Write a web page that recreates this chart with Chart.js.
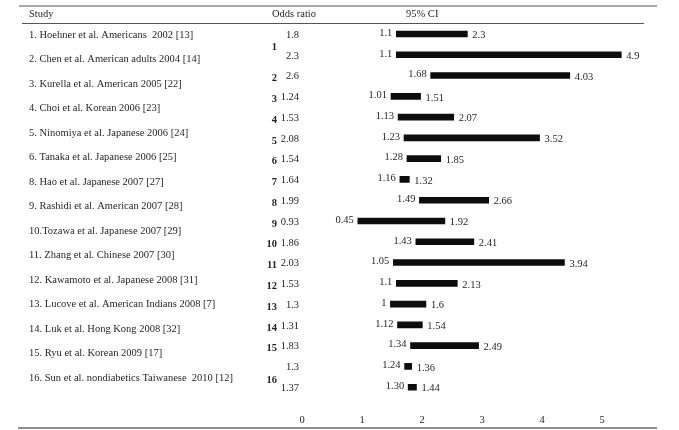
<!DOCTYPE html>
<html>
<head>
<meta charset="utf-8">
<title>Odds ratio and 95% CI by study</title>
<script src="https://cdn.jsdelivr.net/npm/chart.js@4"></script>
<style>
  html, body { margin: 0; padding: 0; background: #fff; }
  canvas { display: block; }
</style>
</head>
<body>
<canvas id="mycanvas" width="679" height="430"></canvas>
<script>
const dataChart = document.querySelector("#mycanvas").getContext("2d");

// Table data (one entry per study label)
const studies = [
  "1. Hoehner et al. Americans  2002 [13]",
  "2. Chen et al. American adults 2004 [14]",
  "3. Kurella et al. American 2005 [22]",
  "4. Choi et al. Korean 2006 [23]",
  "5. Ninomiya et al. Japanese 2006 [24]",
  "6. Tanaka et al. Japanese 2006 [25]",
  "8. Hao et al. Japanese 2007 [27]",
  "9. Rashidi et al. American 2007 [28]",
  "10.Tozawa et al. Japanese 2007 [29]",
  "11. Zhang et al. Chinese 2007 [30]",
  "12. Kawamoto et al. Japanese 2008 [31]",
  "13. Lucove et al. American Indians 2008 [7]",
  "14. Luk et al. Hong Kong 2008 [32]",
  "15. Ryu et al. Korean 2009 [17]",
  "16. Sun et al. nondiabetics Taiwanese  2010 [12]",
];

// One entry per bar row
const groups = [1, 1, 2, 3, 4, 5, 6, 7, 8, 9, 10, 11, 12, 13, 14, 15, 16, 16];
const oddsRatios = ["1.8", "2.3", "2.6", "1.24", "1.53", "2.08", "1.54", "1.64", "1.99",
  "0.93", "1.86", "2.03", "1.53", "1.3", "1.31", "1.83", "1.3", "1.37"];
const ciLow = ["1.1", "1.1", "1.68", "1.01", "1.13", "1.23", "1.28", "1.16", "1.49",
  "0.45", "1.43", "1.05", "1.1", "1", "1.12", "1.34", "1.24", "1.30"];
const ciHigh = ["2.3", "4.9", "4.03", "1.51", "2.07", "3.52", "1.85", "1.32", "2.66",
  "1.92", "2.41", "3.94", "2.13", "1.6", "1.54", "2.49", "1.36", "1.44"];

const tickValues = [0, 1, 2, 3, 4, 5];
const tickLabels = ["0", "1", "2", "3", "4", "5"];

const ink = "#231f20";
const font = "10.5px 'Liberation Serif'";
const boldFont = "bold 10.5px 'Liberation Serif'";

// draws the table around the bars: rules, headers, study names, odds ratios, CI labels
const tablePlugin = {
  id: "table",
  afterDraw(chart) {
    const { ctx, scales } = chart;
    const x = scales.x;
    const y = scales.y;
    ctx.save();

    // horizontal rules
    const rule = (x1, x2, yy, color, w) => {
      ctx.strokeStyle = color;
      ctx.lineWidth = w;
      ctx.beginPath();
      ctx.moveTo(x1, yy);
      ctx.lineTo(x2, yy);
      ctx.stroke();
    };
    rule(19, 657, 6, "#a8a8a8", 2);
    rule(22, 644, 23.5, "#555", 1.2);
    rule(18, 657, 428, "#6a6a6a", 1.5);

    ctx.fillStyle = ink;
    ctx.font = font;
    ctx.textBaseline = "middle";
    ctx.textAlign = "left";
    ctx.fillText("Study", 29, 14);
    ctx.fillText("Odds ratio", 272, 14);
    ctx.fillText("95% CI", 406, 14);

    // study names, evenly spaced down to the last group
    const lastRow = groups.length - 1.5;
    studies.forEach((s, k) => {
      const row = (k * lastRow) / (studies.length - 1);
      ctx.fillText(s, 29, y.getPixelForValue(row) + 1);
    });

    // bold group numbers, centred on the rows of their group
    ctx.font = boldFont;
    ctx.textAlign = "right";
    [...new Set(groups)].forEach((g) => {
      const rows = groups.map((v, i) => (v === g ? i : -1)).filter((i) => i >= 0);
      const mid = rows.reduce((a, b) => a + b, 0) / rows.length;
      ctx.fillText(String(g), 277, y.getPixelForValue(mid) + 3);
    });

    // odds ratios and CI end labels
    ctx.font = font;
    oddsRatios.forEach((or, i) => {
      const py = y.getPixelForValue(i);
      ctx.textAlign = "right";
      ctx.fillText(or, 299, py + 1);
      ctx.fillText(ciLow[i], x.getPixelForValue(Number(ciLow[i])) - 4, py - 1);
      ctx.textAlign = "left";
      ctx.fillText(ciHigh[i], x.getPixelForValue(Number(ciHigh[i])) + 5, py + 1.5);
    });

    ctx.restore();
  },
};

const data = {
  labels: groups.map((g, i) => "row" + i),
  datasets: [
    {
      data: ciLow.map((lo, i) => [Number(lo), Number(ciHigh[i])]),
      backgroundColor: "#0d0d0d",
      borderWidth: 0,
      borderSkipped: false,
      barThickness: 6,
    },
  ],
};

const config = {
  type: "bar",
  data: data,
  options: {
    indexAxis: "y",
    responsive: false,
    animation: false,
    layout: { padding: { left: 272, right: 22.2, top: 23.6, bottom: -13 } },
    plugins: { legend: { display: false }, tooltip: { enabled: false } },
    scales: {
      y: { type: "category", display: false, offset: true },
      x: { type: "linear", display: false, min: -1, max: 5.5 },
      x2: {
        type: "linear",
        position: "bottom",
        min: -0.5,
        max: 5.913,
        afterBuildTicks: (scale) => {
          scale.ticks = tickValues.map((v) => ({ value: v }));
        },
        grid: { display: false, drawTicks: false },
        border: { display: false },
        ticks: {
          padding: 16.4,
          color: ink,
          font: { family: "Liberation Serif", size: 10.5 },
          callback: (value, index) => tickLabels[index],
        },
      },
    },
  },
  plugins: [tablePlugin],
};

const myChart = new Chart(dataChart, config);
</script>
</body>
</html>
